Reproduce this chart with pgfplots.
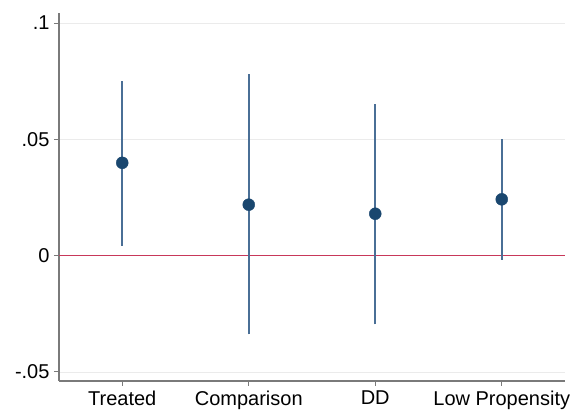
\documentclass[border=0pt]{standalone}
\usepackage{fontspec}
\setmainfont{Liberation Sans}
\usepackage{pgfplots}
\pgfplotsset{compat=1.18}
\definecolor{ptnavy}{HTML}{1A476F}
\definecolor{ciblue}{HTML}{4A6F96}
\definecolor{zeroline}{RGB}{200,56,90}
\definecolor{axgray}{HTML}{7A7A7A}
\definecolor{gridgray}{HTML}{EBEBEB}
\begin{document}
\begin{tikzpicture}
\path[use as bounding box] (-59pt,-34pt) rectangle (528pt,381pt);
\begin{axis}[
  at={(0pt,0pt)}, anchor=south west,
  scale only axis, width=506pt, height=368pt,
  xmin=-0.5, xmax=3.5, ymin=-0.0539, ymax=0.1043,
  axis x line*=bottom, axis y line*=left,
  axis on top=false,
  axis line style={axgray, line width=1.3pt, -},
  xtick={0,1,2,3},
  xticklabels={Treated,Comparison,DD,Low Propensity},
  ytick={-0.05,0.05,0.1},
  yticklabels={-.05,.05,.1},
  extra y ticks={0},
  extra y tick labels={0},
  extra y tick style={ymajorgrids=false},
  tick style={axgray, line width=0.9pt},
  tick align=outside, major tick length=5pt,
  ymajorgrids, grid style={gridgray, line width=0.8pt},
  ticklabel style={font=\fontsize{20}{22}\selectfont, text=black},
  xticklabel style={yshift=-1pt},
  yticklabel style={xshift=-1pt},
  clip=false,
]
\addplot[draw=zeroline, line width=1.5pt, forget plot] coordinates {(-0.5,0) (3.5,0)};
\addplot[draw=ciblue, line width=1.6pt] coordinates {(0,0.0043) (0,0.0751)};
\addplot[draw=ciblue, line width=1.6pt] coordinates {(1,-0.0339) (1,0.0781)};
\addplot[draw=ciblue, line width=1.6pt] coordinates {(2,-0.0296) (2,0.0652)};
\addplot[draw=ciblue, line width=1.6pt] coordinates {(3,-0.0017) (3,0.0503)};
\addplot[only marks, mark=*, mark size=6pt, mark options={fill=ptnavy, draw=ptnavy}] coordinates {
(0,0.0399) (1,0.0219) (2,0.0180) (3,0.0242)};
\end{axis}
\end{tikzpicture}
\end{document}
